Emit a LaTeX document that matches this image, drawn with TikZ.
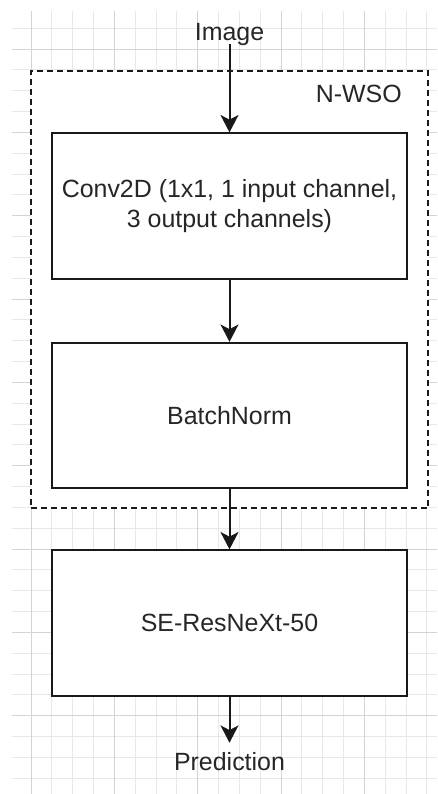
\documentclass[tikz,border=0pt]{standalone}
\usepackage{fontspec}
\setmainfont{Liberation Sans}
\usetikzlibrary{arrows.meta}

\definecolor{gridminor}{RGB}{232,232,232}
\definecolor{gridmajor}{RGB}{212,212,212}
\definecolor{txtgray}{RGB}{38,38,38}

\tikzset{
  block/.style={draw=black!90, line width=1.5pt, fill=white, align=center,
                minimum width=266pt, minimum height=109pt, inner sep=0pt},
  wsobox/.style={draw=black!90, line width=1.4pt, dash pattern=on 4.5pt off 3pt,
                 fill=white, minimum width=298pt, minimum height=328pt},
  plain/.style={inner xsep=0pt, text height=0.75em, text depth=0.25em},
  flow/.style={-{Stealth[length=13pt,width=13.5pt,inset=3.5pt]}, line width=1.5pt, black!90}
}

\begin{document}
\begin{tikzpicture}[x=0.75pt, y=-0.75pt, font=\fontsize{18.7}{22.5}\selectfont, text=txtgray]

 \useasboundingbox (0,0) rectangle (437,794);

 %background grid
 \def\gs{20.833}
 \begin{scope}
   \clip (12,11) rectangle (437,794);
   \foreach \i in {0,...,20} {
     \draw[gridminor, line width=0.6pt] (10.17+\i*\gs, 0) -- ++(0,800);
   }
   \foreach \i in {0,...,38} {
     \draw[gridminor, line width=0.6pt] (0, 7.33+\i*\gs) -- ++(440,0);
   }
   \foreach \i in {0,...,4} {
     \draw[gridmajor, line width=0.6pt] (31+\i*4*\gs, 0) -- ++(0,800);
   }
   \foreach \i in {0,...,9} {
     \draw[gridmajor, line width=0.6pt] (0, 49+\i*4*\gs) -- ++(440,0);
   }
 \end{scope}

 %N-WSO group
 \node[wsobox] (wso) at (229.5,289.5) {};
 \node[anchor=base east, inner sep=0pt] (wsoname) at (402,102) {N-WSO};

 %blocks
 \node[block] (conv) at (229.5,206) {Conv2D (1x1, 1 input channel,\\3 output channels)};
 \node[block] (bn) at (229.5,415.5) {BatchNorm};
 \node[block] (se) at (229.5,623) {SE-ResNeXt-50};

 %input and output
 \node[plain, inner ysep=0pt] (img) at (229.5,37.5) {Image};
 \node[plain, inner ysep=13pt] (pred) at (229.5,767) {Prediction};

 %arrows
 \draw[flow] (img.south) -- (conv.north);
 \draw[flow] (conv.south) -- (bn.north);
 \draw[flow] (bn.south) -- (se.north);
 \draw[flow] (se.south) -- (pred.north);

\end{tikzpicture}
\end{document}
